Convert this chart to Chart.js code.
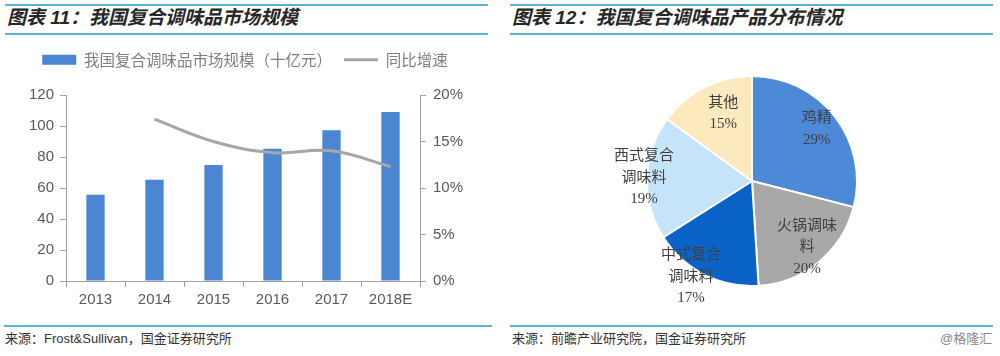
<!DOCTYPE html>
<html><head><meta charset="utf-8">
<script src="https://cdn.jsdelivr.net/npm/chart.js@4.4.0/dist/chart.umd.min.js"></script>
<style>
html,body{margin:0;padding:0;background:#fff;width:1000px;height:356px;overflow:hidden;position:relative;font-family:"Liberation Sans","Noto Sans CJK SC",sans-serif;}
.rule{position:absolute;height:2px;background:#58B3D6;}
.title{position:absolute;top:7px;font-size:19px;font-weight:bold;font-style:italic;color:#262626;white-space:nowrap;line-height:22px;}
.src{position:absolute;top:331px;font-size:13px;color:#333;white-space:nowrap;line-height:16px;}
#c1{position:absolute;left:0;top:40px;}
#c2{position:absolute;left:520px;top:60px;}
</style></head>
<body>
<div class="rule" style="left:5px;width:483px;top:4px"></div>
<div class="rule" style="left:5px;width:483px;top:33px"></div>
<div class="rule" style="left:510px;width:483px;top:4px"></div>
<div class="rule" style="left:510px;width:483px;top:33px"></div>
<div class="title" style="left:7px">图表 11：我国复合调味品市场规模</div>
<div class="title" style="left:512px">图表 12：我国复合调味品产品分布情况</div>
<canvas id="c1" width="490" height="270"></canvas>
<canvas id="c2" width="464" height="250"></canvas>
<div class="rule" style="left:4px;width:488px;top:325px"></div>
<div class="rule" style="left:510px;width:483px;top:325px"></div>
<div class="src" style="left:5px">来源：Frost&amp;Sullivan，国金证券研究所</div>
<div class="src" style="left:512px">来源：前瞻产业研究院，国金证券研究所</div>
<div class="src" style="left:940px;color:#8a8a8a">@格隆汇</div>
<script>
// ---- data ----
const years = ['2013', '2014', '2015', '2016', '2017', '2018E'];
const marketSize = [55.6, 65.3, 74.8, 85.4, 97.3, 109.0];
const growthPct = [null, 17.4, 15.0, 13.8, 14.0, 12.3];
const sizeLabel = '我国复合调味品市场规模（十亿元）';
const growthLabel = '同比增速';

const pieNames = [['鸡精'], ['火锅调味', '料'], ['中式复合', '调味料'], ['西式复合', '调味料'], ['其他']];
const pieShares = [29, 20, 17, 19, 15];

// ---- styles ----
const barColor = '#4A86D2';
const lineColor = '#A6A6A6';
const axisColor = '#A0A0A0';
const tickFont = {family: '"Liberation Sans", Arial, sans-serif', size: 15};
const pieColors = ['#4C89D6', '#A8A8A8', '#0A63C7', '#C6E4F9', '#FCE9BD'];
const labelRadius = [0.79, 0.82, 1.08, 1.03, 0.70];
const labelAngleShift = [-1, 0, 5.5, 0, 4];

const legendFitPlugin = {
  id: 'legendFit',
  beforeInit(chart) {
    const orig = chart.legend.fit;
    chart.legend.fit = function () { orig.call(this); this.height = 55; };
  }
};

new Chart(document.getElementById('c1'), {
  type: 'bar',
  data: {
    labels: years,
    datasets: [
      {type: 'bar', label: sizeLabel, data: marketSize, backgroundColor: barColor,
       yAxisID: 'y', order: 1, barPercentage: 0.31, categoryPercentage: 1},
      {type: 'line', label: growthLabel, data: growthPct, borderColor: lineColor, borderWidth: 3,
       pointRadius: 0, tension: 0.4, yAxisID: 'y1', order: 0, fill: false}
    ]
  },
  options: {
    responsive: false, animation: false,
    layout: {padding: 0},
    plugins: {
      tooltip: {enabled: false},
      legend: {
        position: 'top',
        labels: {
          padding: 12, color: '#7F7F7F', usePointStyle: true, pointStyleWidth: 34, boxHeight: 10,
          font: {family: '"Noto Sans CJK SC", sans-serif', size: 15.5},
          generateLabels: chart => chart.data.datasets.map((ds, i) => ({
            text: ds.label, datasetIndex: i, hidden: false,
            fillStyle: i === 0 ? barColor : lineColor,
            strokeStyle: i === 0 ? barColor : lineColor,
            lineWidth: i === 0 ? 0 : 3,
            pointStyle: i === 0 ? 'rect' : 'line',
            fontColor: '#7F7F7F'
          }))
        }
      }
    },
    scales: {
      x: {
        grid: {drawOnChartArea: false, tickLength: 6, color: axisColor, offset: true},
        border: {color: axisColor},
        ticks: {color: '#595959', font: tickFont, padding: 4},
        afterFit: s => { s.height = 29; }
      },
      y: {
        position: 'left', min: 0, max: 120,
        ticks: {stepSize: 20, color: '#595959', font: tickFont, padding: 6},
        grid: {drawOnChartArea: false, tickLength: 6, color: axisColor},
        border: {color: axisColor},
        afterFit: s => { s.width = 66; }
      },
      y1: {
        position: 'right', min: 0, max: 20,
        ticks: {stepSize: 5, color: '#595959', font: tickFont, padding: 7, callback: v => v + '%'},
        grid: {drawOnChartArea: false, tickLength: 6, color: axisColor},
        border: {color: axisColor},
        afterFit: s => { s.width = 70; }
      }
    }
  },
  plugins: [legendFitPlugin]
});

const pieLabelPlugin = {
  id: 'pieLabels',
  afterDatasetsDraw(chart) {
    const ctx = chart.ctx;
    const meta = chart.getDatasetMeta(0);
    ctx.save();
    ctx.font = '15px "Liberation Serif", "Noto Sans CJK SC", serif';
    ctx.fillStyle = '#404040';
    ctx.textAlign = 'center';
    ctx.textBaseline = 'middle';
    meta.data.forEach((arc, i) => {
      const p = arc.getProps(['x', 'y', 'startAngle', 'endAngle', 'outerRadius'], true);
      const a = (p.startAngle + p.endAngle) / 2 + labelAngleShift[i] * Math.PI / 180;
      const r = p.outerRadius * labelRadius[i];
      const cx = p.x + r * Math.cos(a), cy = p.y + r * Math.sin(a);
      const lines = [...chart.data.labels[i], chart.data.datasets[0].data[i] + '%'];
      const lh = 21.5;
      lines.forEach((t, j) => ctx.fillText(t, cx, cy + (j - (lines.length - 1) / 2) * lh));
    });
    ctx.restore();
  }
};

new Chart(document.getElementById('c2'), {
  type: 'pie',
  data: {
    labels: pieNames,
    datasets: [{data: pieShares, backgroundColor: pieColors, borderColor: '#fff', borderWidth: 2}]
  },
  options: {
    responsive: false, animation: false,
    layout: {padding: {top: 15, bottom: 23}},
    plugins: {legend: {display: false}, tooltip: {enabled: false}}
  },
  plugins: [pieLabelPlugin]
});
</script>
</body></html>
